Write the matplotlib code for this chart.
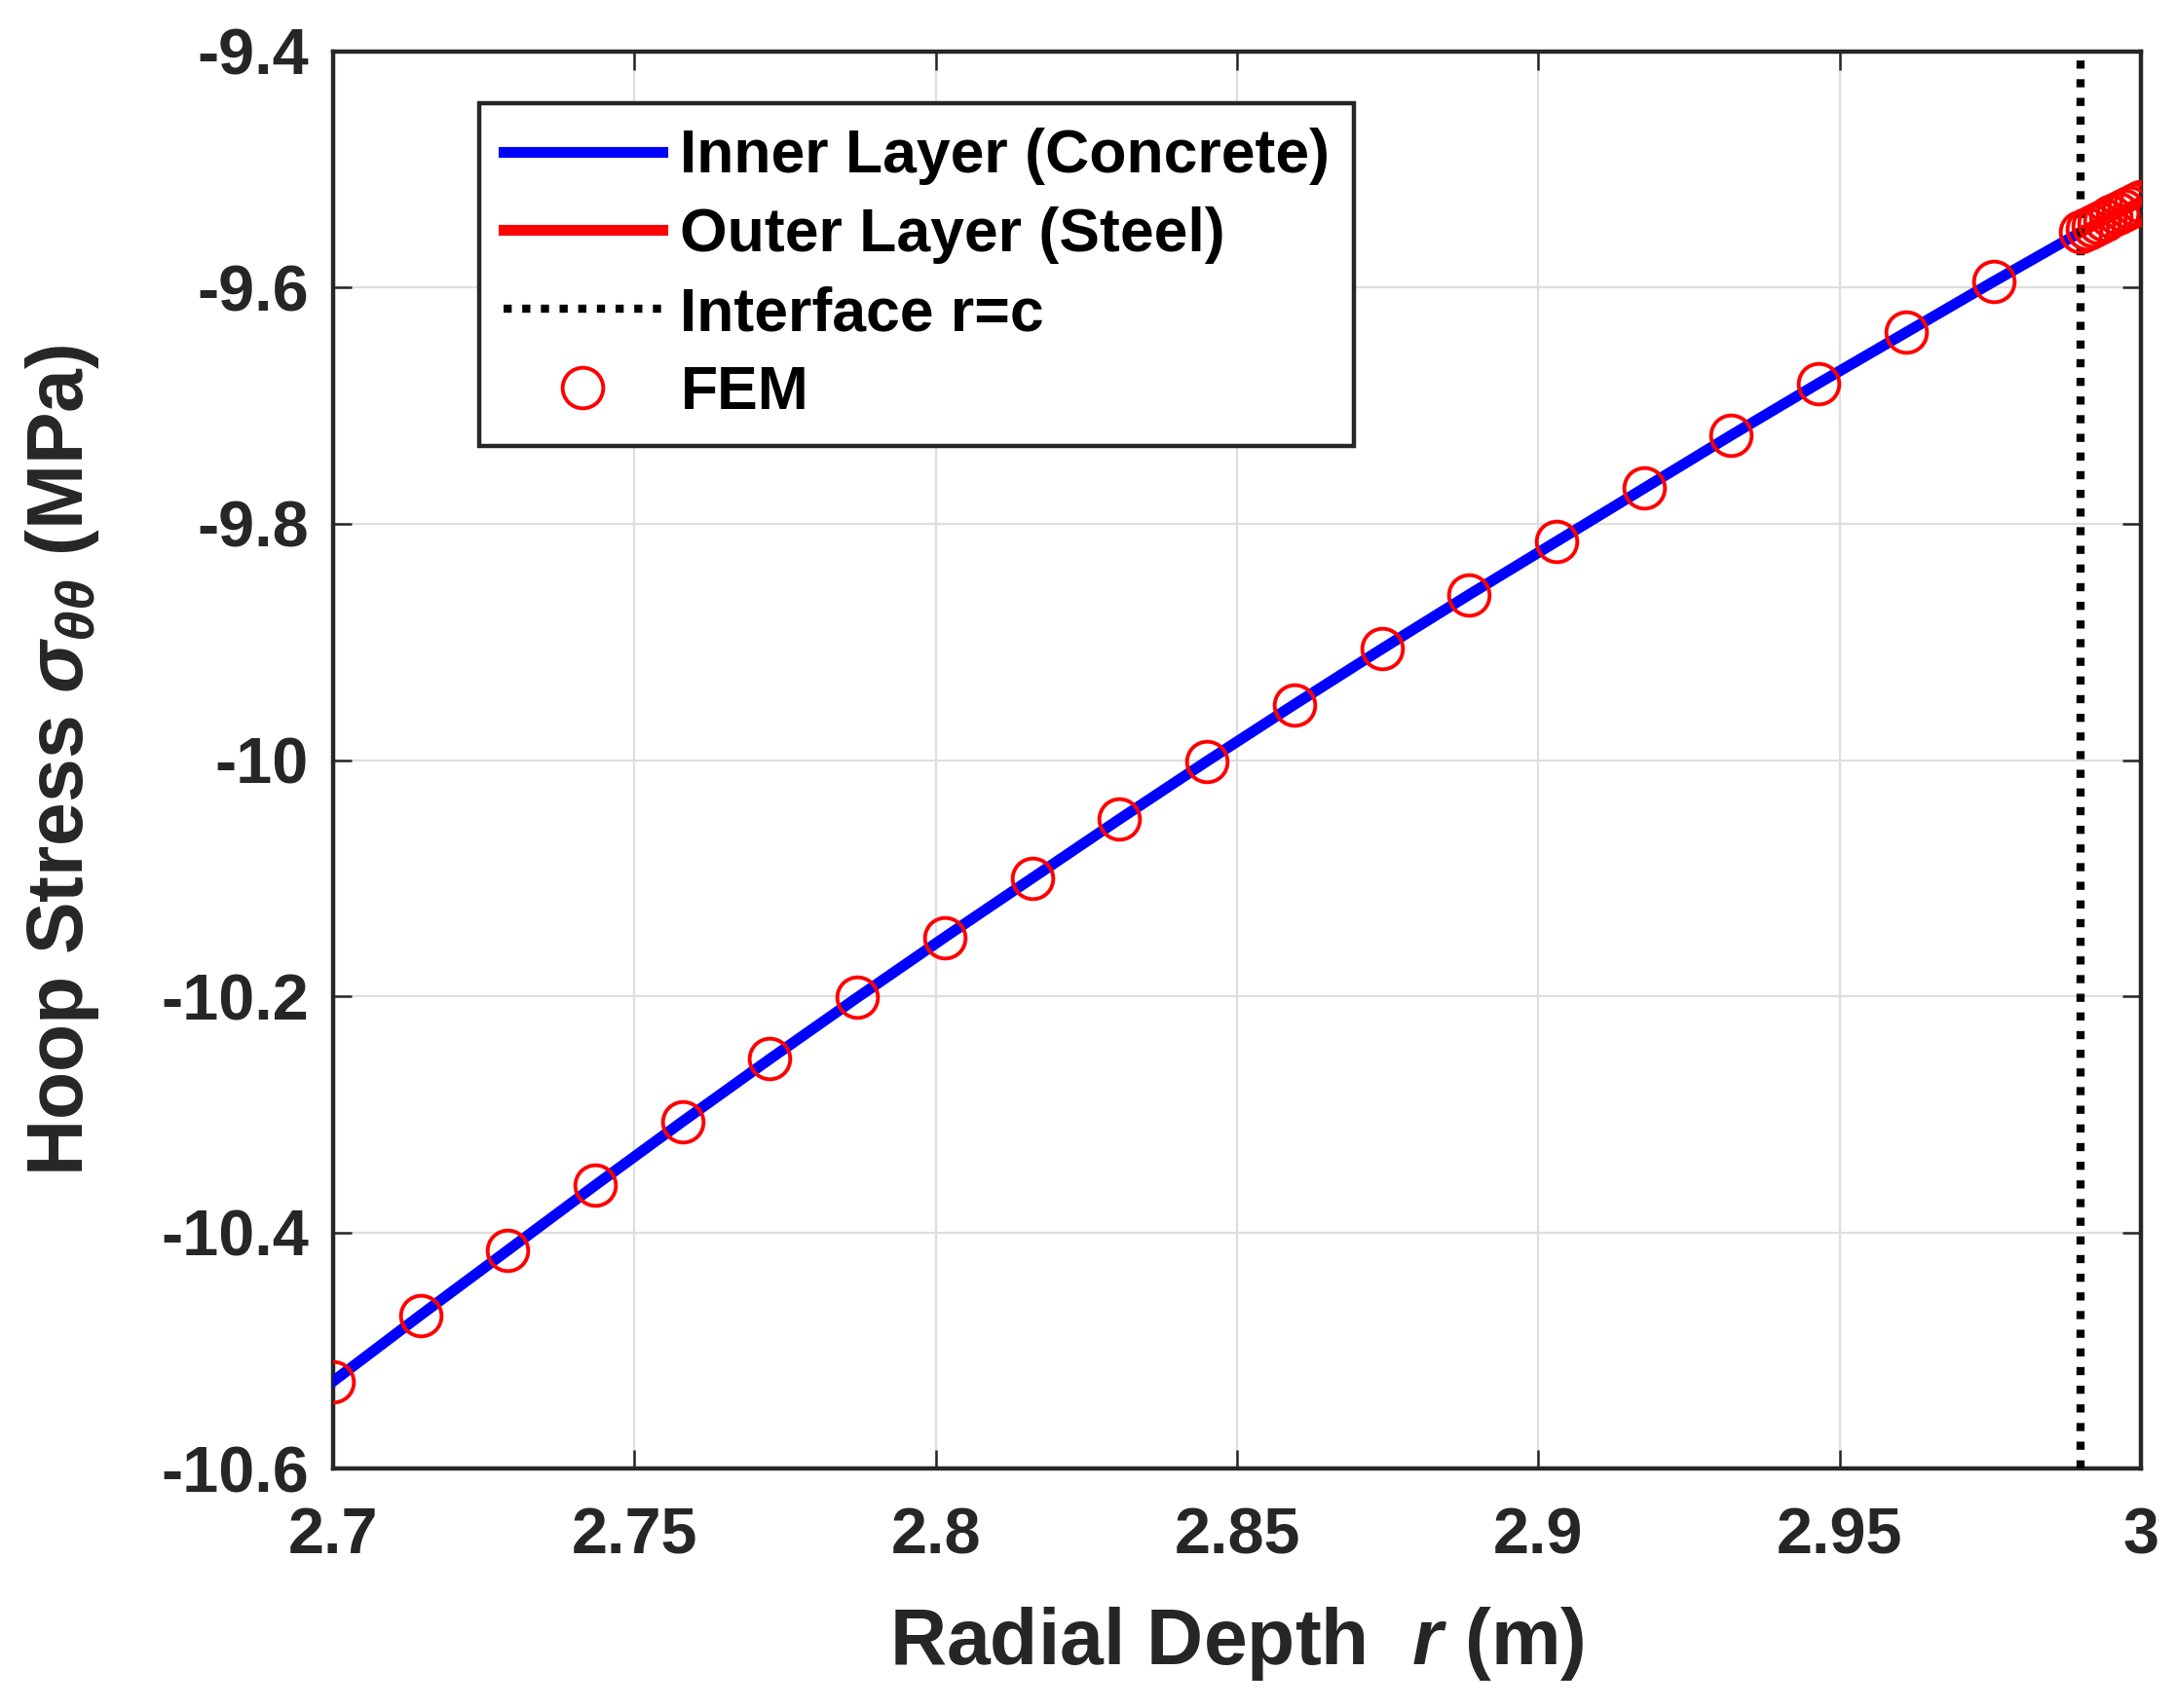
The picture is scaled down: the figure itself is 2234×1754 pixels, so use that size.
import numpy as np
import matplotlib
matplotlib.use("Agg")
import matplotlib.pyplot as plt

# Font setup (MATLAB-like bold sans)
plt.rcParams['font.family'] = ['Liberation Sans', 'DejaVu Sans']
plt.rcParams['font.weight'] = 'bold'
plt.rcParams['axes.labelweight'] = 'bold'
plt.rcParams['mathtext.fontset'] = 'custom'
plt.rcParams['mathtext.rm'] = 'Liberation Sans:bold'
plt.rcParams['mathtext.it'] = 'Liberation Sans:italic:bold'
plt.rcParams['mathtext.bf'] = 'Liberation Sans:bold'
plt.rcParams['axes.unicode_minus'] = False

# Analytical solution, inner layer (concrete)
r_inner = [2.7, 2.7145, 2.729, 2.7435, 2.758, 2.7725, 2.787, 2.8015, 2.816,
           2.8305, 2.845, 2.8595, 2.874, 2.8885, 2.903, 2.9175, 2.932,
           2.9465, 2.961, 2.9755, 2.99]
sigma_inner = [-10.526, -10.470, -10.415, -10.360, -10.306, -10.253, -10.201,
               -10.150, -10.100, -10.050, -10.001, -9.953, -9.906, -9.860,
               -9.815, -9.770, -9.725, -9.681, -9.638, -9.595, -9.553]

# Analytical solution, outer layer (steel)
r_outer = [2.99, 2.995, 3.0]
sigma_outer = [-9.553, -9.540, -9.527]

# FEM results
r_fem = r_inner + [2.991, 2.992, 2.993, 2.994, 2.995, 2.996, 2.997, 2.998,
                   2.999, 3.0]
sigma_fem = sigma_inner + [-9.5505, -9.548, -9.5455, -9.543, -9.540, -9.5375,
                           -9.535, -9.5325, -9.530, -9.527]

r_interface = 2.99

x_ticks = [2.7, 2.75, 2.8, 2.85, 2.9, 2.95, 3.0]
x_ticklabels = ['2.7', '2.75', '2.8', '2.85', '2.9', '2.95', '3']
y_ticks = [-10.6, -10.4, -10.2, -10.0, -9.8, -9.6, -9.4]
y_ticklabels = ['-10.6', '-10.4', '-10.2', '-10', '-9.8', '-9.6', '-9.4']

axis_color = '#262626'

fig = plt.figure(figsize=(11.17, 8.77), dpi=200)
ax = fig.add_axes([0.153, 0.140, 0.831, 0.830])

ax.plot(r_inner, sigma_inner, color='blue', lw=4, label='Inner Layer (Concrete)', zorder=3)
ax.plot(r_outer, sigma_outer, color='red', lw=4, label='Outer Layer (Steel)', zorder=3)
ax.axvline(r_interface, color='black', ls=(0, (1, 1.3)), lw=3.0,
           label='Interface r=c', zorder=4)
ax.plot(r_fem, sigma_fem, ls='none', marker='o', ms=15, mfc='none', mec='red',
        mew=1.4, label='FEM', zorder=5)

ax.set_xlim(2.7, 3.0)
ax.set_ylim(-10.6, -9.4)
ax.set_xticks(x_ticks)
ax.set_xticklabels(x_ticklabels)
ax.set_yticks(y_ticks)
ax.set_yticklabels(y_ticklabels)

ax.grid(True, color='#dedede', lw=0.8)
ax.set_axisbelow(True)
for sp in ax.spines.values():
    sp.set_color(axis_color)
    sp.set_linewidth(1.6)
ax.tick_params(direction='in', length=7, width=0.9, colors=axis_color,
               top=True, right=True, labelsize=24)
ax.tick_params(axis='x', pad=14)
ax.tick_params(axis='y', pad=9)

ax.set_xlabel('Radial Depth  $r$ (m)', fontsize=29, fontweight='bold',
              color=axis_color, labelpad=14)
ax.set_ylabel(r'Hoop Stress $\sigma_{\theta\theta}$ (MPa)', fontsize=29,
              fontweight='bold', color=axis_color, labelpad=22)

leg = ax.legend(loc='upper left', bbox_to_anchor=(0.081, 0.963), borderaxespad=0,
                fontsize=22.5, fancybox=False, edgecolor=axis_color, framealpha=1,
                handlelength=2.6, handletextpad=0.3, borderpad=0.4,
                labelspacing=0.35)
leg.get_frame().set_linewidth(1.6)

fig.savefig('out.png', dpi=200)
